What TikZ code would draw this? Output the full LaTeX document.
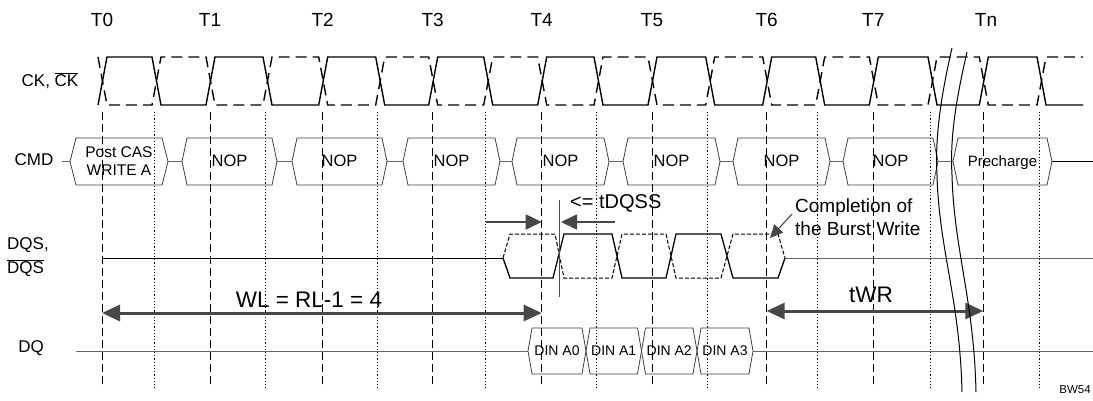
\documentclass[tikz,border=0pt]{standalone}
\usepackage{fontspec}
\setmainfont{Liberation Sans}
\usetikzlibrary{arrows.meta}
\newcommand\hexbox[5]{% left, right, mid y, half height, slant
  \draw[boxline] (#1,#3) -- ({#1+#5},{#3-#4}) -- ({#2-#5},{#3-#4}) -- (#2,#3)
    -- ({#2-#5},{#3+#4}) -- ({#1+#5},{#3+#4}) -- cycle;}
\begin{document}
\begin{tikzpicture}[x=1pt,y=-1pt,
  vdash/.style={line width=0.95pt, dash pattern=on 8pt off 4pt},
  vdot/.style={line width=0.95pt, dash pattern=on 1.2pt off 2pt},
  ck/.style={line width=1.4pt},
  ckb/.style={line width=1.4pt, dash pattern=on 11pt off 6pt},
  dqs/.style={line width=1.3pt},
  dqsb/.style={line width=1pt, dash pattern=on 4pt off 2pt},
  boxline/.style={draw=black!75, line width=0.8pt},
  thinline/.style={draw=black!60, line width=0.8pt},
  bigarrow/.style={draw=black!72, line width=3pt, {Triangle[length=18pt,width=16pt]}-{Triangle[length=18pt,width=16pt]}},
  midarrow/.style={draw=black!72, line width=1.8pt, -{Triangle[length=16pt,width=15pt]}},
  smallarrow/.style={draw=black!72, line width=1.1pt, -{Triangle[length=13pt,width=12pt]}},
  tlbl/.style={font=\fontsize{19}{22}\selectfont, inner sep=0},
  slbl/.style={font=\fontsize{17}{20}\selectfont, inner sep=0},
  btxt/.style={font=\fontsize{16.5}{19}\selectfont, inner sep=0, align=center},
  dtxt/.style={font=\fontsize{14}{16}\selectfont, inner sep=0},
  big/.style={font=\fontsize{22.5}{26}\selectfont, inner sep=0},
  note/.style={font=\fontsize{19}{23}\selectfont, inner sep=0, align=left}]
\useasboundingbox (0,0) rectangle (1093,400);
\fill[white] (0,0) rectangle (1093,400);

% vertical guide lines
\foreach \x in {102,210,322.7,432.7,541.7,652,766.7,873.3,983.3}
  \draw[vdash] (\x,112) -- (\x,388);
\foreach \x in {154,265,377.7,485.7,596,707.7,817.7,930,1039}
  \draw[vdot] (\x,112) -- (\x,388);

% time labels
\foreach \x/\n [count=\i] in {102/T0,210/T1,322.7/T2,432.7/T3,541.7/T4,652/T5,766.7/T6,873.3/T7,986/Tn}
  \node[tlbl] (lab\i) at (\x,20) {\n};

% clock
\draw[ck] (98,105) foreach \t/\m in {102/154,210/265,322.7/377.7,432.7/485.7,541.7/596,652/707.7,766.7/817.7,873.3/930,983.3/1039}
  { -- ({\t-4},105) -- ({\t+5},57) -- ({\m-2},57) -- ({\m+7},105) } -- (1083,105);
\draw[ckb] (98,57) foreach \t/\m in {102/154,210/265,322.7/377.7,432.7/485.7,541.7/596,652/707.7,766.7/817.7,873.3/930,983.3/1039}
  { -- ({\t-4},57) -- ({\t+5},105) -- ({\m-2},105) -- ({\m+7},57) } -- (1083,57);

% signal names
\node[slbl] (ckl) at (50,81) {CK, $\overline{\mbox{CK}}$};
\node[slbl] (cmdl) at (34,160) {CMD};
\node[slbl, anchor=west] (dqsl1) at (7,245) {DQS,};
\node[slbl, anchor=west] (dqsl2) at (7,268) {$\overline{\mbox{DQS}}$};
\node[slbl] (dql) at (31,348) {DQ};

% CMD bus
\draw[thinline] (62,161.5) -- (70,161.5);
\foreach \a/\b in {168/182,277/292,387/403,500/512,609/623,720/733,830/843,938/953}
  \draw[thinline] (\a,161.5) -- (\b,161.5);
\draw[line width=1.3pt] (1052,161.5) -- (1093,161.5);
\hexbox{70}{168}{161.5}{23.5}{6}
\hexbox{182}{277}{161.5}{23.5}{5}
\hexbox{292}{387}{161.5}{23.5}{5}
\hexbox{403}{500}{161.5}{23.5}{5}
\hexbox{512}{609}{161.5}{23.5}{5}
\hexbox{623}{720}{161.5}{23.5}{5}
\hexbox{733}{830}{161.5}{23.5}{5}
\hexbox{843}{938}{161.5}{23.5}{5}
\hexbox{953}{1052}{161.5}{23.5}{5}
\node[btxt, font=\fontsize{15.5}{18}\selectfont] (c1) at (119,161.5) {Post CAS\\WRITE A};
\foreach \x [count=\i] in {229.5,339.5,451.5,560.5,671.5,781.5,890.5}
  \node[btxt] (nop\i) at (\x,161) {NOP};
\node[btxt, font=\fontsize{15}{18}\selectfont] (pre) at (1002.5,163) {Precharge};

% DQS
\draw[line width=0.9pt] (102,258) -- (503,258);
\draw[thinline] (785,258) -- (1093,258);
\draw[dqs] (503,258) -- (510,278) -- (553,278) -- (564,234) -- (612,234) -- (622,278) -- (666,278)
  -- (676,234) -- (721,234) -- (733,278) -- (778,278) -- (785,258);
\draw[dqsb] (503,258) -- (510,234) -- (555,234) -- (564,278) -- (612,278) -- (622,234) -- (666,234)
  -- (676,278) -- (721,278) -- (733,234) -- (778,234) -- (785,258);

% tDQSS
\coordinate (tq1) at (486,222);
\coordinate (tq2) at (541.7,222);
\coordinate (tq3) at (615,222);
\coordinate (tq4) at (561,222);
\draw[midarrow] (tq1) -- (tq2);
\draw[midarrow] (tq3) -- (tq4);
\draw[draw=black!70, line width=0.9pt] (559,200) -- (559,297);
\node[note, anchor=west, font=\fontsize{20}{23}\selectfont] (tdqss) at (570,203) {<= tDQSS};

% completion note
\node[note, anchor=north west] (compl) at (795,199) {Completion of\\the Burst Write};
\coordinate (ctip) at (770,238);
\draw[smallarrow] (792,214) -- (ctip);

% WL and tWR
\coordinate (wl1) at (102,313);
\coordinate (wl2) at (541.7,313);
\draw[bigarrow] (wl1) -- (wl2);
\node[big] (wl) at (309,300) {WL = RL-1 = 4};
\coordinate (wr1) at (766.7,311);
\coordinate (wr2) at (983.3,311);
\draw[bigarrow] (wr1) -- (wr2);
\node[big] (twr) at (871,295) {tWR};

% DQ
\draw[thinline] (76,351) -- (528,351);
\draw[thinline] (753,351) -- (1093,351);
\hexbox{528}{586}{351}{23}{4}
\hexbox{586}{641.5}{351}{23}{4}
\hexbox{641.5}{697}{351}{23}{4}
\hexbox{697}{753}{351}{23}{4}
\foreach \x/\t [count=\i] in {557/DIN A0,613.7/DIN A1,669.2/DIN A2,725/DIN A3}
  \node[dtxt] (din\i) at (\x,351) {\t};

% break marks
\draw[line width=1pt] (952,48) .. controls (940,100) and (935,140) .. (937,175)
  .. controls (939,250) and (960,300) .. (962,392);
\draw[line width=1pt] (967,52) .. controls (955,104) and (950,140) .. (952,175)
  .. controls (954,250) and (974,300) .. (976,392);

\node[font=\fontsize{11.5}{13}\selectfont, inner sep=0] (bw) at (1075,390) {BW54};
\end{tikzpicture}
\end{document}
